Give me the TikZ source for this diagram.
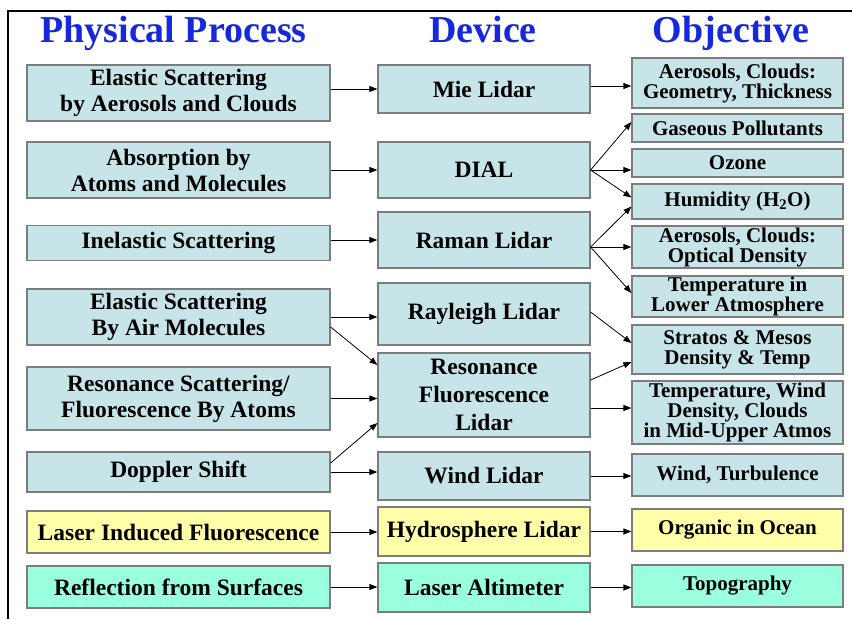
\documentclass[tikz,border=0pt]{standalone}
\usepackage{fontspec}
\setmainfont{Liberation Serif}
\usetikzlibrary{arrows.meta}
\definecolor{skyfill}{RGB}{199,228,232}
\definecolor{lemonfill}{RGB}{255,255,170}
\definecolor{aquafill}{RGB}{153,255,222}
\definecolor{boxline}{RGB}{125,125,125}
\definecolor{headblue}{RGB}{22,40,220}
\tikzset{
  box/.style={draw=boxline,line width=1.2pt,fill=skyfill,align=center,inner sep=0pt,
    font=\bfseries\fontsize{23.5}{26}\selectfont},
  objbox/.style={box,font=\bfseries\fontsize{21}{20}\selectfont},
  head/.style={anchor=base,text=headblue,font=\bfseries\fontsize{38}{40}\selectfont},
  arr/.style={line width=0.8pt,-{Triangle[length=8pt,width=6pt]}}
}
\begin{document}
\begin{tikzpicture}[x=1pt,y=-1pt]
 \useasboundingbox (0,0) rectangle (852,619);
 \draw[line width=2pt] (8,619) -- (8,11) -- (852,11);
 % column heads
 \node[head] (hproc) at (173.5,42) {Physical Process};
 \node[head] (hdev) at (483,42) {Device};
 \node[head] (hobj) at (731,42) {Objective};
 % physical processes
 \node[box,minimum width=303,minimum height=56] (elaer) at (178.5,93) {Elastic Scattering\\by Aerosols and Clouds};
 \node[box,minimum width=303,minimum height=56] (absorb) at (178.5,170) {Absorption by\\Atoms and Molecules};
 \node[box,minimum width=303,minimum height=35] (inelas) at (178.5,243) {Inelastic Scattering};
 \node[box,minimum width=303,minimum height=56] (elair) at (178.5,317) {Elastic Scattering\\By Air Molecules};
 \node[box,minimum width=303,minimum height=63] (resscat) at (178.5,398.5) {Resonance Scattering/\\Fluorescence By Atoms};
 \node[box,minimum width=303,minimum height=40] (doppler) at (178.5,472) {Doppler Shift};
 \node[box,fill=lemonfill,minimum width=303,minimum height=42] (lif) at (178.5,532) {Laser Induced Fluorescence};
 \node[box,fill=aquafill,minimum width=303,minimum height=42] (reflect) at (178.5,587) {Reflection from Surfaces};
 % devices
 \node[box,minimum width=212,minimum height=48] (mie) at (484,89) {Mie Lidar};
 \node[box,minimum width=212,minimum height=56] (dial) at (484,170) {DIAL};
 \node[box,minimum width=212,minimum height=56] (raman) at (484,240) {Raman Lidar};
 \node[box,minimum width=212,minimum height=62] (rayleigh) at (484,314) {Rayleigh Lidar};
 \node[box,minimum width=212,minimum height=84,font=\bfseries\fontsize{23.5}{28}\selectfont] (resfl) at (484,395) {Resonance\\Fluorescence\\Lidar};
 \node[box,minimum width=212,minimum height=48] (windlid) at (484,476) {Wind Lidar};
 \node[box,fill=lemonfill,minimum width=212,minimum height=49] (hydro) at (484,531.5) {Hydrosphere Lidar};
 \node[box,fill=aquafill,minimum width=212,minimum height=49] (altim) at (484,587.5) {Laser Altimeter};
 % objectives
 \node[objbox,minimum width=211,minimum height=50] (geom) at (737.5,83) {Aerosols, Clouds:\\Geometry, Thickness};
 \node[objbox,minimum width=211,minimum height=28] (gas) at (737.5,128) {Gaseous Pollutants};
 \node[objbox,minimum width=211,minimum height=28] (ozone) at (737.5,163) {Ozone};
 \node[objbox,minimum width=211,minimum height=35] (humid) at (737.5,201.5) {Humidity (H\textsubscript{2}O)};
 \node[objbox,minimum width=211,minimum height=42] (optdens) at (737.5,247) {Aerosols, Clouds:\\Optical Density};
 \node[objbox,minimum width=211,minimum height=41] (lowtemp) at (737.5,296.5) {Temperature in\\Lower Atmosphere};
 \node[objbox,minimum width=211,minimum height=49] (stratos) at (737.5,349.5) {Stratos \& Mesos\\Density \& Temp};
 \node[objbox,minimum width=211,minimum height=63] (midupper) at (737.5,412.5) {Temperature, Wind\\Density, Clouds\\in Mid-Upper Atmos};
 \node[objbox,minimum width=211,minimum height=42] (turb) at (737.5,475) {Wind, Turbulence};
 \node[objbox,fill=lemonfill,minimum width=211,minimum height=42] (ocean) at (737.5,530) {Organic in Ocean};
 \node[objbox,fill=aquafill,minimum width=211,minimum height=42] (topo) at (737.5,586) {Topography};
 % process -> device
 \draw[arr] (elaer.east |- mie) -- (mie.west);
 \draw[arr] (absorb.east) -- (dial.west);
 \draw[arr] (inelas.east |- raman) -- (raman.west);
 \draw[arr] (elair.east) -- (elair.east -| rayleigh.west);
 \draw[arr] ([yshift=-10pt]elair.east) -- ([yshift=30pt]resfl.west);
 \draw[arr] (resscat.east) -- (resscat.east -| resfl.west);
 \draw[arr] ([yshift=9pt]doppler.east) -- ([yshift=-28pt]resfl.west);
 \draw[arr] (doppler.east) -- (doppler.east -| windlid.west);
 \draw[arr] (lif.east) -- (lif.east -| hydro.west);
 \draw[arr] (reflect.east) -- (reflect.east -| altim.west);
 % device -> objective
 \draw[arr] ([yshift=3pt]mie.east) -- ([yshift=3pt]mie.east -| geom.west);
 \draw[arr] (dial.east) -- ([yshift=6pt]gas.west);
 \draw[arr] (dial.east) -- (dial.east -| ozone.west);
 \draw[arr] (dial.east) -- ([yshift=4pt]humid.west);
 \draw[arr] ([yshift=-7pt]raman.east) -- ([yshift=-5pt]humid.west);
 \draw[arr] ([yshift=-7pt]raman.east) -- (optdens.west);
 \draw[arr] ([yshift=-7pt]raman.east) -- ([yshift=3.5pt]lowtemp.west);
 \draw[arr] ([yshift=2pt]rayleigh.east) -- ([yshift=6.5pt]stratos.west);
 \draw[arr] ([yshift=15pt]resfl.east) -- ([yshift=-12.5pt]stratos.west);
 \draw[arr] ([yshift=-13pt]resfl.east) -- ([yshift=4.5pt]midupper.west);
 \draw[arr] (windlid.east) -- (windlid.east -| turb.west);
 \draw[arr] (hydro.east) -- (hydro.east -| ocean.west);
 \draw[arr] (altim.east) -- (altim.east -| topo.west);
\end{tikzpicture}
\end{document}
